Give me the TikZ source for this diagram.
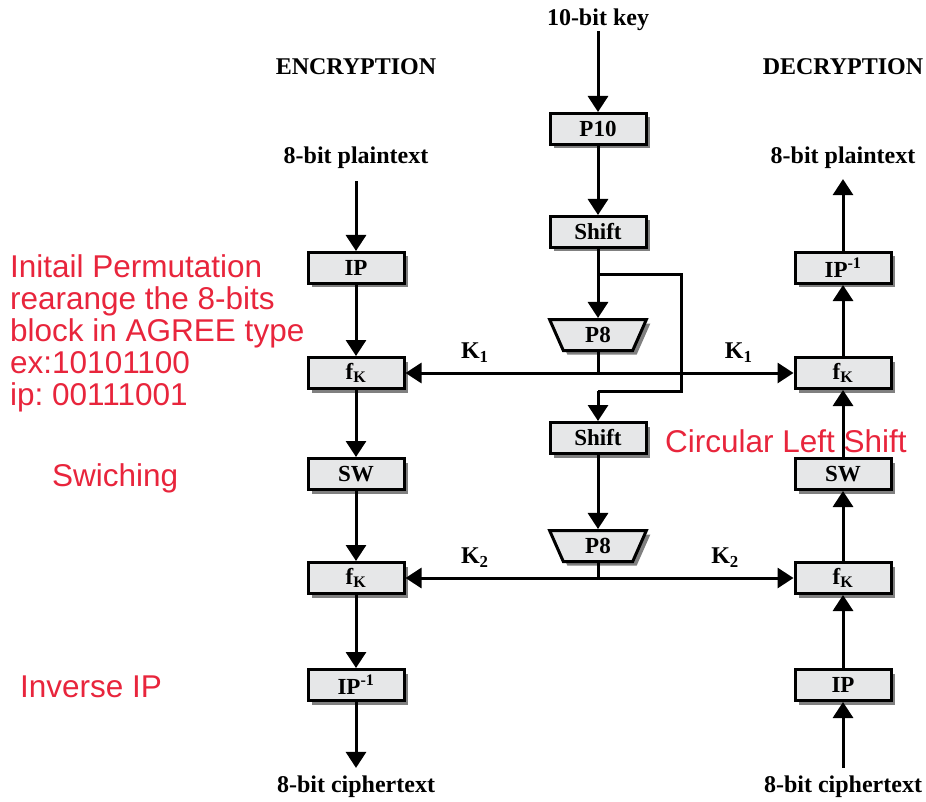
\documentclass[tikz,border=0pt]{standalone}
\usepackage{fontspec}
\setmainfont{Liberation Serif}
\newfontfamily\notefont{Liberation Sans}
\usetikzlibrary{arrows.meta,shadows,shapes.geometric,calc}
\definecolor{boxGray}{RGB}{230,231,232}
\definecolor{noteRed}{RGB}{232,37,60}

\tikzset{
  blk/.style={draw, line width=3pt, fill=boxGray, minimum width=96pt, minimum height=31pt,
    inner sep=0pt, font=\bfseries\fontsize{23}{26}\selectfont,
    drop shadow={shadow xshift=4pt, shadow yshift=-4pt, fill=black!50, opacity=1}},
  pbox/.style={blk, trapezium, shape border rotate=180, trapezium angle=72, trapezium stretches=true,
    minimum width=97pt, minimum height=31pt},
  lbl/.style={font=\bfseries\fontsize{24}{28}\selectfont, inner sep=0pt},
  note/.style={text=noteRed, font=\notefont\fontsize{31.5}{32}\selectfont\frenchspacing, align=left, inner sep=0pt, anchor=base west},
  arr/.style={line width=3pt, -{Triangle[width=20pt,length=16pt]}},
  ln/.style={line width=3pt}
}

\begin{document}
\begin{tikzpicture}[x=1pt,y=-1pt]
  \useasboundingbox (0,0) rectangle (926,802);
  % headings
  \node[lbl] (enc) at (356,67) {ENCRYPTION};
  \node[lbl] (dec) at (843,67) {DECRYPTION};
  \node[lbl] (key) at (598,20) {10-bit key};
  \node[lbl] (ptL) at (356,158) {8-bit plaintext};
  \node[lbl] (ptR) at (843,158) {8-bit plaintext};
  \node[lbl] (ctL) at (356,787) {8-bit ciphertext};
  \node[lbl] (ctR) at (843,787) {8-bit ciphertext};
  % key generation
  \node[blk] (p10) at (598,129) {P10};
  \node[blk] (sh1) at (598,232) {Shift};
  \node[pbox] (p8a) at (598,335) {P8};
  \node[blk] (sh2) at (598,438) {Shift};
  \node[pbox] (p8b) at (598,546) {P8};
  % encryption side
  \node[blk] (ipL) at (356,268) {IP};
  \node[blk] (fk1L) at (356,373) {f\textsubscript{K}};
  \node[blk] (swL) at (356,474) {SW};
  \node[blk] (fk2L) at (356,578) {f\textsubscript{K}};
  \node[blk] (ipiL) at (356,685) {IP\textsuperscript{-1}};
  % decryption side
  \node[blk] (ipiR) at (843,268) {IP\textsuperscript{-1}};
  \node[blk] (fk1R) at (843,373) {f\textsubscript{K}};
  \node[blk] (swR) at (843,474) {SW};
  \node[blk] (fk2R) at (843,578) {f\textsubscript{K}};
  \node[blk] (ipR) at (843,685) {IP};

  \coordinate (k1) at (p8a |- fk1L);
  \coordinate (k2) at (p8b |- fk2L);
  \coordinate (br) at ($(sh1.south)+(0,26)$);
  \coordinate (bj) at ($(sh2.north)+(0,-30)$);

  % key schedule
  \draw[arr] (key) -- (p10);
  \draw[arr] (p10) -- (sh1);
  \draw[arr] (sh1) -- (p8a);
  \draw[ln] (br) -- ++(83,0) |- (bj);
  \draw[arr] (bj) -- (sh2);
  \draw[arr] (sh2) -- (p8b);
  \draw[ln] (p8a) -- (k1);
  \draw[ln] (p8b) -- (k2);
  \draw[arr] (k1) -- (fk1L) node[lbl, pos=0.64, above=9pt] {K\textsubscript{1}};
  \draw[arr] (k1) -- (fk1R) node[lbl, pos=0.72, above=9pt] {K\textsubscript{1}};
  \draw[arr] (k2) -- (fk2L) node[lbl, pos=0.64, above=9pt] {K\textsubscript{2}};
  \draw[arr] (k2) -- (fk2R) node[lbl, pos=0.65, above=9pt] {K\textsubscript{2}};

  % encryption
  \draw[arr] ($(ptL.south)+(0,12)$) -- (ipL);
  \draw[arr] (ipL) -- (fk1L);
  \draw[arr] (fk1L) -- (swL);
  \draw[arr] (swL) -- (fk2L);
  \draw[arr] (fk2L) -- (ipiL);
  \draw[arr] (ipiL) -- ($(ctL.north)+(0,-8)$);

  % decryption
  \draw[arr] ($(ctR.north)+(0,-8)$) -- (ipR);
  \draw[arr] (ipR) -- (fk2R);
  \draw[arr] (fk2R) -- (swR);
  \draw[arr] (swR) -- (fk1R);
  \draw[arr] (fk1R) -- (ipiR);
  \draw[arr] (ipiR) -- ($(ptR.south)+(0,10)$);

  % notes
  \node[note] (nip) at (10,405) {Initail Permutation\\rearange the 8-bits\\block in AGREE type\\ex:10101100\\ip: 00111001};
  \node[note] (nsw) at (52,486) {Swiching};
  \node[note] (nipi) at (20,697) {Inverse IP};
  \node[note] (nsh) at (665,452) {Circular Left Shift};
\end{tikzpicture}
\end{document}
